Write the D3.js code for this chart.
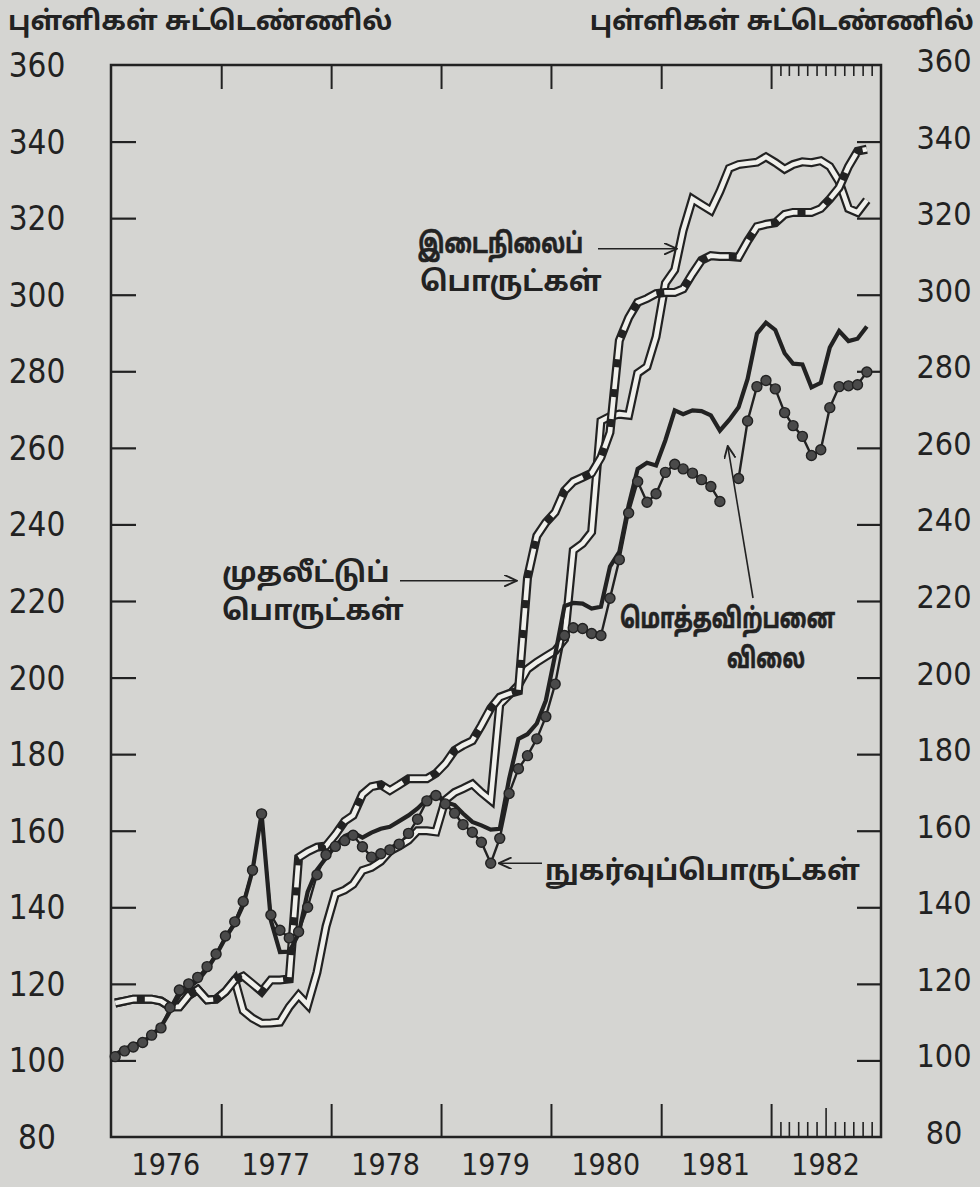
<!DOCTYPE html>
<html>
<head>
<meta charset="utf-8">
<script src="https://cdn.jsdelivr.net/npm/d3@7/dist/d3.min.js"></script>
<style>
body { margin: 0; background: #d5d5d2; }
svg { display: block; }
.num { font-family: "Liberation Sans Narrow", "DejaVu Sans Condensed", sans-serif; fill: #222; }
.ta { font-family: "Noto Sans Tamil", "Lohit Tamil", "Noto Sans", sans-serif; font-weight: bold; fill: #222; }
.axis path, .axis line { stroke: #222; }
</style>
</head>
<body>
<svg id="chart" width="980" height="1187"></svg>
<script>
// index values, one per month from Jan 1976
var firstMonth = "1976-01";
var yearLabels = ["1976", "1977", "1978", "1979", "1980", "1981", "1982"];
var yLabels = [80, 100, 120, 140, 160, 180, 200, 220, 240, 260, 280, 300, 320, 340, 360];
var yTicks = [100, 120, 140, 160, 180, 200, 220, 240, 260, 280, 300, 320, 340];
var unitLabel = "புள்ளிகள் சுட்டெண்ணில்";

// இடைநிலைப் பொருட்கள்
var intermediate = [115, 115.5, 116, 116, 116, 115.5, 114, 114, 117, 118.5, 115.8, 116,
	118, 121, 113, 111, 109.7, 109.8, 110, 114, 117, 114.5, 123, 135,
	143.5, 144.5, 146, 149.6, 150.4, 152, 154.7, 156, 157.5, 160, 160, 159.7,
	168, 170, 171, 172.2, 170, 168, 193, 195.5, 198, 202.2, 204, 205.5,
	207, 210, 233.2, 235, 238, 267, 268.2, 268.8, 268.5, 279.5, 281.2, 289,
	303, 306.5, 316.8, 325, 323.5, 322, 327, 333, 334, 334.3, 334.6, 336,
	334.5, 332.8, 334, 334.7, 334.5, 335, 333.5, 329.5, 322.5, 321.5, 324.7];

// முதலீட்டுப் பொருட்கள்
var capital = [115, 115.5, 116, 116, 116, 115.5, 114, 114, 117, 118.5, 115.8, 116,
	118, 121, 122, 120, 118, 121, 121, 121.3, 153, 154.5, 155.7, 156,
	159, 162.5, 164, 169.5, 171.5, 172, 170.5, 172, 173.6, 173.6, 173.6, 175,
	177.5, 181, 182.3, 183.5, 187.5, 192, 194.9, 195.8, 196.5, 226, 237, 240.5,
	243.2, 248.8, 251.2, 252.3, 253.4, 257.5, 264, 288, 294, 298, 299, 300.3,
	300.6, 300.6, 301.5, 305.5, 309, 310.2, 310, 310, 309.8, 314, 317.8, 318.4,
	318.8, 321, 321.5, 321.5, 321.5, 322.5, 325, 328, 333.5, 337.5, 338];

// மொத்தவிற்பனை விலை
var wholesale = [101.5, 103, 104, 104.7, 106.6, 108.8, 112.8, 117, 119, 120.8, 123.8, 127.5,
	132, 135.8, 140.6, 149.6, 164.5, 136.5, 128.3, 128.4, 133, 144, 149.8, 152.9,
	156, 158.6, 159.5, 158.2, 159.5, 160.5, 161, 162.5, 164, 165.8, 168.2, 169.7,
	167.5, 166.7, 164.5, 162.3, 161.4, 160.3, 160.5, 173.5, 184, 185.2, 188, 194,
	206, 218.7, 219.5, 219.3, 218, 218.5, 229, 232.8, 245, 254.5, 256.1, 255.4,
	262, 269.8, 268.8, 269.8, 269.6, 268.5, 264.5, 267.3, 270.6, 278, 289.8, 292.7,
	290.8, 284.7, 282, 281.8, 275.8, 277, 286.2, 290.5, 287.9, 288.5, 291.7];

// நுகர்வுப்பொருட்கள் (null = break where the arrow crosses)
var consumer = [101, 102.5, 103.5, 104.7, 106.6, 108.5, 113.8, 118.4, 120, 121.7, 124.5, 127.8,
	132.5, 136.2, 141.5, 149.7, 164.4, 138, 134, 132, 133.6, 140, 148.5, 153.7,
	155.9, 157.4, 158.8, 155.8, 153.1, 154, 155, 156.5, 159.3, 163, 167.8, 169.2,
	167, 164.6, 161.6, 159.6, 157, 151.5, 158, 169.7, 176.2, 179.6, 184, 189.8,
	198.3, 211, 213, 212.8, 211.5, 211, 220.7, 230.8, 243, 251.2, 245.8, 248,
	253.6, 255.7, 254.5, 253.4, 251.7, 249.9, 246, null, 252, 267, 276, 277.6,
	275.4, 269.2, 265.8, 263, 258, 259.5, 270.5, 276, 276.2, 276.5, 279.8];

var ink = "#222", paper = "#d5d5d2", inner = "#f0f0ec";
var svg = d3.select("#chart");

var start = d3.timeParse("%Y-%m")(firstMonth);
var months = intermediate.map(function(d, i) {
	return d3.timeDay.offset(d3.timeMonth.offset(start, i), 14);
});
var x = d3.scaleTime().domain([new Date(1976, 0, 1), new Date(1983, 0, 1)]).range([111, 881]);
var y = d3.scaleLinear().domain([80, 360]).range([1137, 65]);
var L = x.range()[0], R = x.range()[1], T = y(360), B = y(80);

svg.append("rect").attr("width", 980).attr("height", 1187).attr("fill", paper);

// frame
svg.append("rect").attr("x", L).attr("y", T).attr("width", R - L).attr("height", B - T)
	.attr("fill", "none").attr("stroke", ink).attr("stroke-width", 2.5);

// inner ticks on all four sides
var yearStarts = yearLabels.slice(1).map(function(s) { return new Date(+s, 0, 1); });
var months82 = d3.timeMonth.range(new Date(1982, 1, 1), new Date(1982, 11, 2));

function tickAxis(axis, tx, ty, w) {
	var g = svg.append("g").attr("class", "axis").attr("transform", "translate(" + tx + "," + ty + ")")
		.call(axis.tickFormat("").tickSizeOuter(0));
	g.select(".domain").remove();
	g.selectAll("line").attr("stroke-width", w);
}
tickAxis(d3.axisRight(y).tickValues(yTicks).tickSize(25), L, 0, 2.2);
tickAxis(d3.axisLeft(y).tickValues(yTicks).tickSize(24), R, 0, 2.2);
tickAxis(d3.axisBottom(x).tickValues(yearStarts).tickSize(24), 0, T, 2);
tickAxis(d3.axisTop(x).tickValues(yearStarts).tickSize(33), 0, B, 2);
tickAxis(d3.axisBottom(x).tickValues(months82).tickSize(11), 0, T, 1.6);
tickAxis(d3.axisTop(x).tickValues(months82.filter(function(d) { return d.getMonth() !== 6; })).tickSize(15), 0, B, 1.6);
tickAxis(d3.axisTop(x).tickValues([new Date(1982, 6, 1)]).tickSize(29), 0, B, 1.6);

// value labels, both sides
svg.append("g").selectAll("text").data(yLabels).join("text")
	.attr("class", "num").attr("x", 37).attr("y", function(d) { return y(d) + 12; })
	.attr("text-anchor", "middle").attr("font-size", 33).text(function(d) { return d; });
svg.append("g").selectAll("text").data(yLabels).join("text")
	.attr("class", "num").attr("x", 944).attr("y", function(d) { return y(d) + 7; })
	.attr("text-anchor", "middle").attr("font-size", 32).text(function(d) { return d; });

// year labels in the middle of each year
svg.append("g").selectAll("text").data(yearLabels).join("text")
	.attr("class", "num").attr("x", function(d) { return x(new Date(+d, 6, 1)); })
	.attr("y", 1175).attr("text-anchor", "middle").attr("font-size", 30)
	.text(function(d) { return d; });

svg.append("text").attr("class", "ta").attr("x", 8).attr("y", 30).attr("font-size", 27).text(unitLabel);
svg.append("text").attr("class", "ta").attr("x", 974).attr("y", 30).attr("font-size", 27)
	.attr("text-anchor", "end").text(unitLabel);

// series
function pairs(vals) {
	return vals.map(function(v, i) { return [months[i], v]; });
}
var line = d3.line()
	.defined(function(d) { return d[1] !== null; })
	.x(function(d) { return x(d[0]); })
	.y(function(d) { return y(d[1]); });

function drawPath(vals, color, width, dash) {
	var p = svg.append("path").datum(pairs(vals)).attr("d", line)
		.attr("fill", "none").attr("stroke", color).attr("stroke-width", width)
		.attr("stroke-linejoin", "miter").attr("stroke-miterlimit", 3);
	if (dash) p.attr("stroke-dasharray", dash);
	return p;
}

// intermediate: hollow double line
drawPath(intermediate, ink, 9);
drawPath(intermediate, inner, 4.6);
// capital: double line with black blocks
drawPath(capital, ink, 9);
drawPath(capital, inner, 4.6, "22,8");
// wholesale: heavy black
drawPath(wholesale, ink, 4.2);
// consumer: black with dots
drawPath(consumer, ink, 2.4);
svg.append("g").selectAll("circle").data(pairs(consumer).filter(function(d) { return d[1] !== null; }))
	.join("circle").attr("cx", function(d) { return x(d[0]); }).attr("cy", function(d) { return y(d[1]); })
	.attr("r", 5).attr("fill", "#4a4a4a").attr("stroke", ink).attr("stroke-width", 1.4);

// annotations
svg.append("defs").append("marker").attr("id", "head").attr("viewBox", "0 0 12 10")
	.attr("refX", 11).attr("refY", 5).attr("markerWidth", 14).attr("markerHeight", 12)
	.attr("markerUnits", "userSpaceOnUse").attr("orient", "auto")
	.append("path").attr("d", "M0,0L11,5L0,10").attr("fill", "none").attr("stroke", ink).attr("stroke-width", 1.6);

function arrow(x1, y1, x2, y2) {
	svg.append("line").attr("x1", x1).attr("y1", y1).attr("x2", x2).attr("y2", y2)
		.attr("stroke", ink).attr("stroke-width", 1.6).attr("marker-end", "url(#head)");
}
// the old letter forms in the source are narrower, so some words get squeezed a little
function label(s, tx, ty, w, anchor) {
	var t = svg.append("text").attr("class", "ta").attr("font-size", 28)
		.attr("x", tx).attr("y", ty).attr("text-anchor", anchor || "start").text(s);
	if (w) {
		t.attr("textLength", w).attr("lengthAdjust", "spacingAndGlyphs")
			.attr("stroke", ink).attr("stroke-width", 0.7);
	}
}

label("இடைநிலைப்", 418, 253, 165);
label("பொருட்கள்", 420, 291);
arrow(598, y(312), x(new Date(1981, 1, 22)), y(312));

label("முதலீட்டுப்", 222, 582);
label("பொருட்கள்", 222, 620);
arrow(400, y(225.3), x(new Date(1979, 8, 10)), y(225.3));

label("மொத்தவிற்பனை", 620, 628, 215);
label("விலை", 727, 668, 78);
arrow(753, 598, x(new Date(1981, 7, 10)), y(260.5));

var low = pairs(consumer)[41];
label("நுகர்வுப்பொருட்கள்", 545, 880);
arrow(542, y(low[1]), x(low[0]) + 8, y(low[1]));
</script>
</body>
</html>
